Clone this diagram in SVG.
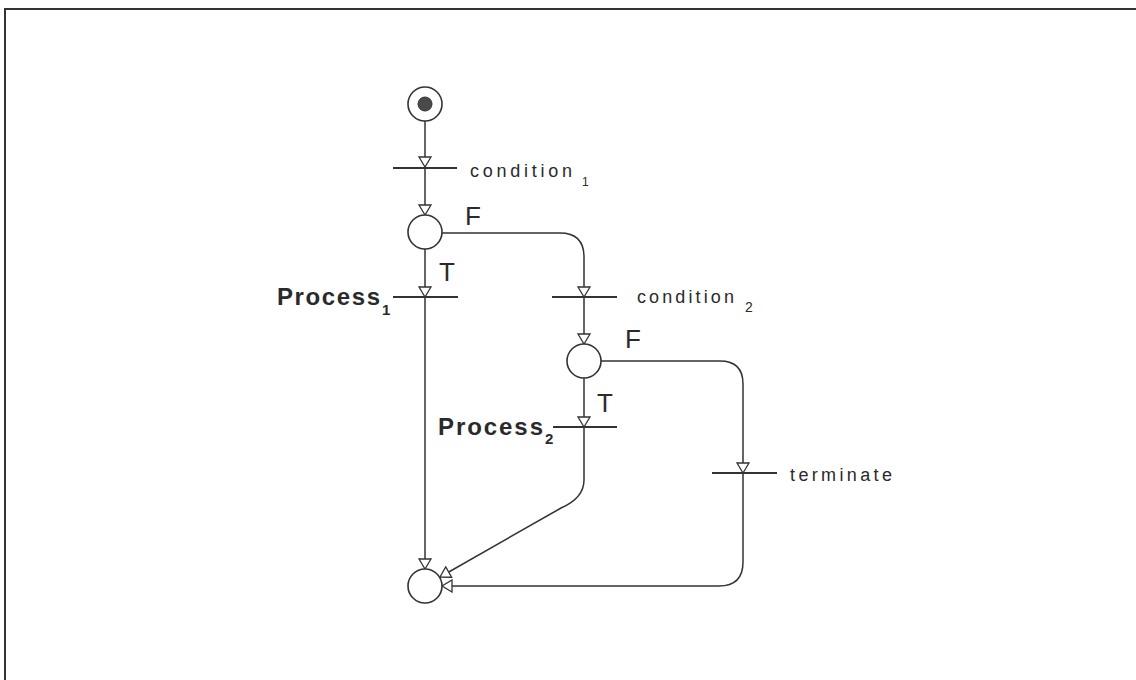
<svg xmlns="http://www.w3.org/2000/svg" width="1136" height="680" viewBox="0 0 1136 680">
<style>
.ln{fill:none;stroke:#333;stroke-width:1.5}
.pl{fill:#fff;stroke:#333;stroke-width:1.6}
.bar{stroke:#333;stroke-width:2}
.lbl{font-family:"Liberation Sans",Arial,sans-serif;fill:#2a2a2a}
.big{font-size:26px}
.cond{font-size:18px}
.proc{font-size:24px;font-weight:bold}
</style>
<defs>
<marker id="ah" markerUnits="userSpaceOnUse" markerWidth="14" markerHeight="14" refX="10" refY="6" orient="auto" viewBox="-1 -1 12 14">
<path d="M0,0 L10,6 L0,12 Z" fill="#fff" stroke="#333" stroke-width="1.3"/>
</marker>
</defs>
<rect width="1136" height="680" fill="#fff"/>
<path d="M5,680 V9 H1136" fill="none" stroke="#333" stroke-width="2"/>
<g id="connectors">
<path class="ln" d="M425,121 V167" marker-end="url(#ah)"/>
<path class="ln" d="M425,168 V215" marker-end="url(#ah)"/>
<path class="ln" d="M425,249 V297" marker-end="url(#ah)"/>
<path class="ln" d="M425,297 V569" marker-end="url(#ah)"/>
<path class="ln" d="M442,233 H560 Q584,233 584,257 V297" marker-end="url(#ah)"/>
<path class="ln" d="M584,297 V344" marker-end="url(#ah)"/>
<path class="ln" d="M584,378 V427" marker-end="url(#ah)"/>
<path class="ln" d="M584,427 V480 Q584,498 561,508 L440,577" marker-end="url(#ah)"/>
<path class="ln" d="M601,361 H720 Q743,361 743,384 V473" marker-end="url(#ah)"/>
<path class="ln" d="M743,473 V562 Q743,586 719,586 H442" marker-end="url(#ah)"/>
</g>
<g id="start">
<circle class="pl" cx="425" cy="104" r="17"/>
<circle cx="425" cy="104" r="7" fill="#4a4a4a" stroke="#333" stroke-width="1"/>
</g>
<g id="t-condition1">
<line class="bar" x1="393" y1="168" x2="457" y2="168"/>
<text class="lbl cond" x="470" y="177" textLength="102" lengthAdjust="spacing">condition</text>
<text class="lbl" x="582" y="186" font-size="12">1</text>
</g>
<g id="p-decision1">
<circle class="pl" cx="425" cy="232" r="17"/>
<text class="lbl big" x="465" y="225">F</text>
<text class="lbl big" x="439" y="281">T</text>
</g>
<g id="t-process1">
<line class="bar" x1="393" y1="297" x2="458" y2="297"/>
<text class="lbl proc" x="277" y="305" textLength="103" lengthAdjust="spacing">Process</text>
<text class="lbl" x="382" y="315" font-size="15" font-weight="bold">1</text>
</g>
<g id="t-condition2">
<line class="bar" x1="552" y1="297" x2="617" y2="297"/>
<text class="lbl cond" x="637" y="303" textLength="97" lengthAdjust="spacing">condition</text>
<text class="lbl" x="745" y="312" font-size="14">2</text>
</g>
<g id="p-decision2">
<circle class="pl" cx="584" cy="361" r="17"/>
<text class="lbl big" x="625" y="348">F</text>
<text class="lbl big" x="597" y="412">T</text>
</g>
<g id="t-process2">
<line class="bar" x1="553" y1="427" x2="617" y2="427"/>
<text class="lbl proc" x="438" y="435" textLength="105" lengthAdjust="spacing">Process</text>
<text class="lbl" x="545" y="444" font-size="15" font-weight="bold">2</text>
</g>
<g id="t-terminate">
<line class="bar" x1="712" y1="473" x2="777" y2="473"/>
<text class="lbl cond" x="790" y="481" textLength="102" lengthAdjust="spacing">terminate</text>
</g>
<g id="end">
<circle class="pl" cx="425" cy="586" r="17"/>
</g>
</svg>
